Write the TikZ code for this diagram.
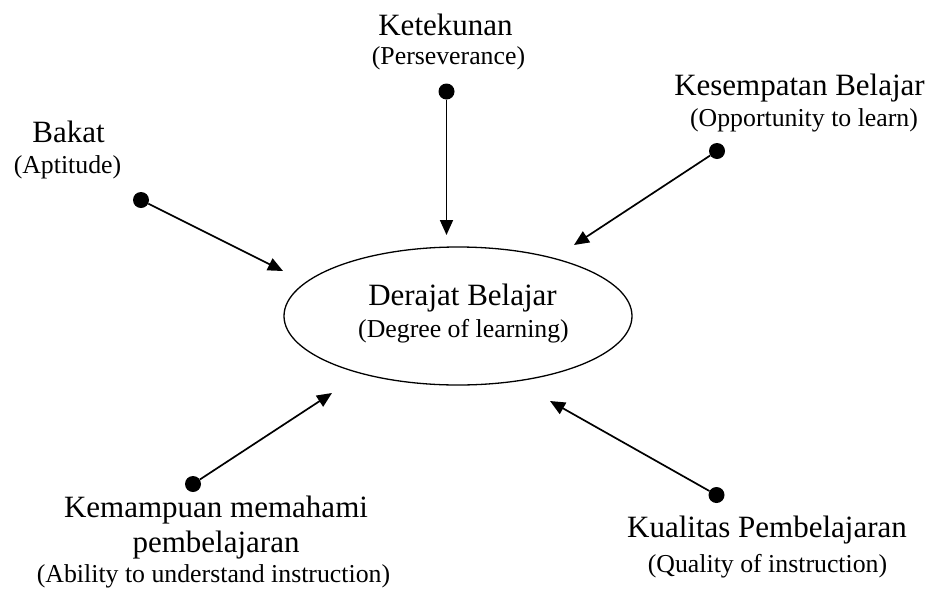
\documentclass[tikz,border=0pt]{standalone}
\usepackage{fontspec}
\setmainfont{Liberation Serif}
\usetikzlibrary{arrows.meta,shapes.geometric}
\begin{document}
\begin{tikzpicture}[x=1pt,y=-1pt,
  head/.style={font=\fontsize{31}{36}\selectfont, anchor=base, inner sep=0pt},
  sub/.style={font=\fontsize{25.8}{30}\selectfont, anchor=base, inner sep=0pt},
  dot/.style={circle, fill=black, minimum size=16pt, inner sep=0pt},
  conn/.style={line width=1.7pt, -{Triangle[length=15pt,width=13pt]}},
  oval/.style={draw, ellipse, line width=1.3pt, minimum width=348pt, minimum height=138pt, inner sep=0pt}]
\useasboundingbox (0,0) rectangle (937,590);

% central ellipse
\node[oval] (center) at (458,316) {};
\node[head] (dtitle) at (462.5,305) {Derajat Belajar};
\node[sub] (dsub) at (463.5,337) {(Degree of learning)};

% labels
\node[head] (ktitle) at (445.5,35) {Ketekunan};
\node[sub] (ksub) at (448.5,64) {(Perseverance)};
\node[head] (btitle) at (68.5,142) {Bakat};
\node[sub] (bsub) at (67.5,173) {(Aptitude)};
\node[head] (otitle) at (799.5,95) {Kesempatan Belajar};
\node[sub] (osub) at (804,126) {(Opportunity to learn)};
\node[head] (atitle) at (216,517) {Kemampuan memahami};
\node[head] (atitle2) at (216,552) {pembelajaran};
\node[sub] (asub) at (213.5,582) {(Ability to understand instruction)};
\node[head] (qtitle) at (767,537) {Kualitas Pembelajaran};
\node[sub] (qsub) at (767.5,572) {(Quality of instruction)};

% dots
\node[dot] (kdot) at (446.5,91.5) {};
\node[dot] (bdot) at (141,200) {};
\node[dot] (odot) at (717,151) {};
\node[dot] (adot) at (193,484) {};
\node[dot] (qdot) at (716.5,495) {};

% arrow tips
\coordinate (ktip) at (446.5,235);
\coordinate (btip) at (283,271);
\coordinate (otip) at (574,245);
\coordinate (atip) at (332,393);
\coordinate (qtip) at (550,401);

\draw[conn] (kdot) -- (ktip);
\draw[conn] (bdot) -- (btip);
\draw[conn] (odot) -- (otip);
\draw[conn] (adot) -- (atip);
\draw[conn] (qdot) -- (qtip);
\end{tikzpicture}
\end{document}
